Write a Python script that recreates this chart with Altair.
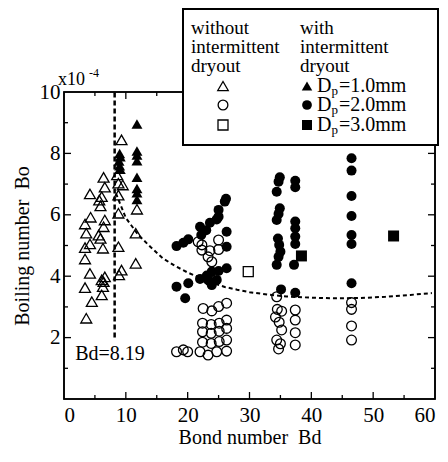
import altair as alt
import pandas as pd

# ---------------- data ----------------
# without intermittent dryout, Dp = 1.0 mm (open triangles)
open_tri_bd = [3.4, 3.6, 3.4, 3.4, 3.4, 3.6, 4.2, 4.3, 4.2, 4.2, 4.5, 5.6, 5.7, 5.9, 5.9,
               6.1, 6.1, 6.1, 6.3, 6.3, 6.4, 6.6, 6.6, 6.4, 6.6, 6.4, 8.6, 8.8, 9.5, 8.8,
               8.8, 8.8, 8.9, 9.3, 9.3, 11.8, 11.6, 11.6]
open_tri_bo = [5.7, 5.4, 4.93, 4.56, 3.63, 2.63, 6.68, 5.92, 5.05, 4.09, 3.17, 5.34, 6.48, 6.29, 5.23,
               6.59, 3.88, 3.39, 4.91, 3.66, 7.22, 6.9, 5.83, 5.61, 3.98, 3.82, 7.3, 7.03, 6.97, 6.64,
               6.05, 4.96, 4.04, 4.2, 8.44, 6.18, 5.4, 4.42]
# without intermittent dryout, Dp = 2.0 mm (open circles)
open_cir_bd = [18.2, 19.3, 20.0, 21.7, 22.3, 22.3, 23.6, 23.3, 23.9, 25.0, 25.0, 23.6,
               22.5, 23.9, 25.0, 26.3, 22.4, 23.8, 25.1, 26.3, 22.4, 23.8, 25.1, 26.3,
               22.4, 23.8, 25.1, 26.3, 22.0, 23.3, 24.7, 26.3,
               34.4, 34.5, 35.2, 34.2, 34.8, 35.2, 34.4, 35.0, 34.7,
               37.4, 37.4, 37.4, 37.4, 46.5, 46.5, 46.5, 46.5]
open_cir_bo = [1.54, 1.6, 1.54, 5.12, 5.02, 4.85, 4.83, 4.63, 4.47, 5.18, 4.87, 3.85,
               2.95, 2.87, 3.01, 3.12, 2.47, 2.43, 2.47, 2.57, 2.19, 2.14, 2.21, 2.3,
               1.85, 1.81, 1.87, 1.92, 1.54, 1.43, 1.54, 1.56,
               3.33, 2.92, 2.86, 2.67, 2.5, 2.25, 1.92, 1.8, 1.63,
               2.9, 2.57, 2.16, 1.76, 3.14, 2.92, 2.38, 1.92]
# without intermittent dryout, Dp = 3.0 mm (open square)
open_sq_bd = [29.8]
open_sq_bo = [4.15]
# with intermittent dryout, Dp = 1.0 mm (filled triangles)
fill_tri_bd = [9.0, 9.1, 8.9, 9.0, 9.1, 11.8, 11.8, 11.8, 11.8, 11.8, 11.8, 11.8, 11.8]
fill_tri_bo = [8.0, 7.89, 7.75, 7.6, 7.48, 8.96, 8.08, 7.95, 7.76, 7.22, 6.86, 6.72, 6.5]
# with intermittent dryout, Dp = 2.0 mm (filled circles)
fill_cir_bd = [18.2, 19.3, 20.1, 22.0, 22.2, 23.0, 23.6, 24.7, 25.0, 25.0, 26.0, 26.2, 26.3, 26.3,
               18.2, 20.1, 19.6, 22.0, 23.1, 23.3, 23.9, 23.9, 24.7, 25.0, 26.3,
               34.9, 34.7, 34.4, 37.4, 37.4, 34.9, 34.7, 34.4, 37.4, 37.4, 37.4, 37.4,
               34.6, 34.8, 35.0, 34.7, 34.4, 37.2, 35.1, 37.4,
               46.5, 46.5, 46.5, 46.5, 46.5, 46.5, 46.5]
fill_cir_bo = [4.98, 5.09, 5.2, 5.61, 5.34, 5.5, 5.74, 5.85, 5.94, 6.16, 6.43, 6.52, 5.45, 4.96,
               3.66, 3.77, 3.28, 3.91, 4.02, 3.88, 4.15, 3.71, 3.88, 4.17, 4.26,
               7.22, 7.08, 6.75, 7.11, 6.9, 6.21, 6.03, 5.83, 5.78, 5.56, 5.29, 5.05,
               5.23, 5.02, 4.8, 4.63, 4.37, 4.37, 3.57, 3.46,
               7.84, 7.44, 6.61, 5.96, 5.34, 5.05, 3.77]
# with intermittent dryout, Dp = 3.0 mm (filled squares)
fill_sq_bd = [38.4, 53.3]
fill_sq_bo = [4.66, 5.31]

# dashed boundary curve
curve_bd = [8.4, 10, 12, 14, 16, 18, 20, 22, 24, 26, 28, 30, 33, 36, 40, 44, 48, 52, 56, 59.5]
curve_bo = [6.7, 5.9, 5.35, 4.95, 4.58, 4.33, 4.12, 3.95, 3.78, 3.65, 3.56, 3.48, 3.4, 3.34,
            3.3, 3.28, 3.29, 3.33, 3.39, 3.45]
# vertical boundary Bd = 8.19
bd_line = 8.19
bd_line_bo = [2, 10]

x_ticks = [0, 10, 20, 30, 40, 50, 60]
y_ticks = [2, 4, 6, 8, 10]
x_minor = [5, 15, 25, 35, 45, 55]
y_minor = [1, 3, 5, 7, 9]

legend_left = ["without", "intermittent", "dryout"]
legend_right = ["with", "intermittent", "dryout"]
legend_dp = ["=1.0mm", "=2.0mm", "=3.0mm"]

# ---------------- chart ----------------
W, H = 371, 307
FONT = "Liberation Serif"
xs = alt.Scale(domain=[0, 60], nice=False, zero=False)
ys = alt.Scale(domain=[0, 10], nice=False, zero=False)

axis_common = dict(ticks=False, tickSize=0, domain=False, grid=False,
                   labelFont=FONT, labelFontSize=21, labelColor="black",
                   titleFont=FONT, titleFontSize=20, titleFontWeight="normal", titleColor="black")
X_AXIS = alt.Axis(values=x_ticks, format="d", labelPadding=5,
                  title="Bond number\u00a0\u00a0Bd", titlePadding=2, **axis_common)
Y_AXIS = alt.Axis(values=y_ticks, format="d", labelPadding=4,
                  title="Boiling number\u00a0\u00a0Bo", titlePadding=7, **axis_common)


def X(field):
    return alt.X(field, scale=xs, axis=X_AXIS)


def Y(field):
    return alt.Y(field, scale=ys, axis=Y_AXIS)


def pts(bd, bo, shape, filled, size):
    df = pd.DataFrame({"Bd": bd, "Bo": bo})
    return alt.Chart(df).mark_point(
        shape=shape, filled=filled, size=size, color="black", opacity=1, strokeWidth=1.3
    ).encode(x=X("Bd:Q"), y=Y("Bo:Q"))


def txt(s, x, y, size=19, align="left", baseline="middle"):
    return alt.Chart(pd.DataFrame({"t": [s]})).mark_text(
        font=FONT, fontSize=size, align=align, baseline=baseline, color="black"
    ).encode(x=alt.value(x), y=alt.value(y), text="t:N")


frame = alt.Chart(pd.DataFrame({"a": [0]})).mark_rect(
    fill="none", stroke="black", strokeWidth=1.6
).encode(x=alt.value(0), x2=alt.value(W), y=alt.value(0), y2=alt.value(H))

curve = alt.Chart(pd.DataFrame({"Bd": curve_bd, "Bo": curve_bo})).mark_line(
    color="black", strokeWidth=2, strokeDash=[4, 3]
).encode(x=X("Bd:Q"), y=Y("Bo:Q"))

vline = alt.Chart(pd.DataFrame({"Bd": [bd_line], "Bo": [bd_line_bo[0]], "hi": [bd_line_bo[1]]})).mark_rule(
    color="black", strokeWidth=2.5, strokeDash=[5, 3]
).encode(x=X("Bd:Q"), y=Y("Bo:Q"), y2="hi:Q")

bd_label = alt.Chart(pd.DataFrame({"Bd": [1.8], "Bo": [1.45], "t": [f"Bd={bd_line}"]})).mark_text(
    font=FONT, fontSize=20, align="left", baseline="middle", color="black"
).encode(x=X("Bd:Q"), y=Y("Bo:Q"), text="t:N")


# inward ticks on all four sides
def xtick(vals, length):
    base = alt.Chart(pd.DataFrame({"Bd": vals})).mark_rule(color="black", strokeWidth=1.3)
    return [base.encode(x=X("Bd:Q"), y=alt.value(H), y2=alt.value(H - length)),
            base.encode(x=X("Bd:Q"), y=alt.value(0), y2=alt.value(length))]


def ytick(vals, length):
    base = alt.Chart(pd.DataFrame({"Bo": vals})).mark_rule(color="black", strokeWidth=1.3)
    return [base.encode(y=Y("Bo:Q"), x=alt.value(0), x2=alt.value(length)),
            base.encode(y=Y("Bo:Q"), x=alt.value(W), x2=alt.value(W - length))]


ticks = xtick(x_ticks[1:-1], 7) + xtick(x_minor, 4) + ytick(y_ticks[:-1], 7) + ytick(y_minor, 4)

points = [
    pts(open_tri_bd, open_tri_bo, "triangle-up", False, 120),
    pts(open_cir_bd, open_cir_bo, "circle", False, 95),
    pts(open_sq_bd, open_sq_bo, "square", False, 100),
    pts(fill_tri_bd, fill_tri_bo, "triangle-up", True, 120),
    pts(fill_cir_bd, fill_cir_bo, "circle", True, 100),
    pts(fill_sq_bd, fill_sq_bo, "square", True, 121),
]

# exponent label
expo = [txt("x10", -6, -12, 18), txt("-4", 25, -19, 12)]

# legend (right edge kept inside the 448 px window)
box = alt.Chart(pd.DataFrame({"a": [0]})).mark_rect(
    fill="white", stroke="black", strokeWidth=2
).encode(x=alt.value(119), x2=alt.value(374), y=alt.value(-83), y2=alt.value(53))

leg = [box]
for i, s in enumerate(legend_left):
    leg.append(txt(s, 127, -64 + 19 * i, 19))
for i, s in enumerate(legend_right):
    leg.append(txt(s, 236, -64 + 19 * i, 19))
row_y = [-6, 13, 33]
shapes = ["triangle-up", "circle", "square"]
sizes = [110, 95, 100]


def sym(shape, filled, size, x, y):
    return alt.Chart(pd.DataFrame({"a": [0]})).mark_point(
        shape=shape, filled=filled, size=size, color="black", opacity=1, strokeWidth=1.3
    ).encode(x=alt.value(x), y=alt.value(y))


for i in range(3):
    leg.append(sym(shapes[i], False, sizes[i], 159, row_y[i]))
    leg.append(sym(shapes[i], True, sizes[i], 243, row_y[i]))
    leg.append(txt("D", 253, row_y[i], 20))
    leg.append(txt("p", 267.5, row_y[i] + 5, 13))
    leg.append(txt(legend_dp[i], 275, row_y[i], 20))

chart = alt.layer(frame, curve, vline, *ticks, *points, bd_label, *expo, *leg).properties(
    width=W, height=H,
    autosize=alt.AutoSizeParams(type="none"),
    padding={"left": 56, "top": 84, "right": 4, "bottom": 52},
).configure_view(stroke="black", strokeWidth=1.5)

chart.save("out.html", embed_options={"renderer": "svg", "actions": False})
